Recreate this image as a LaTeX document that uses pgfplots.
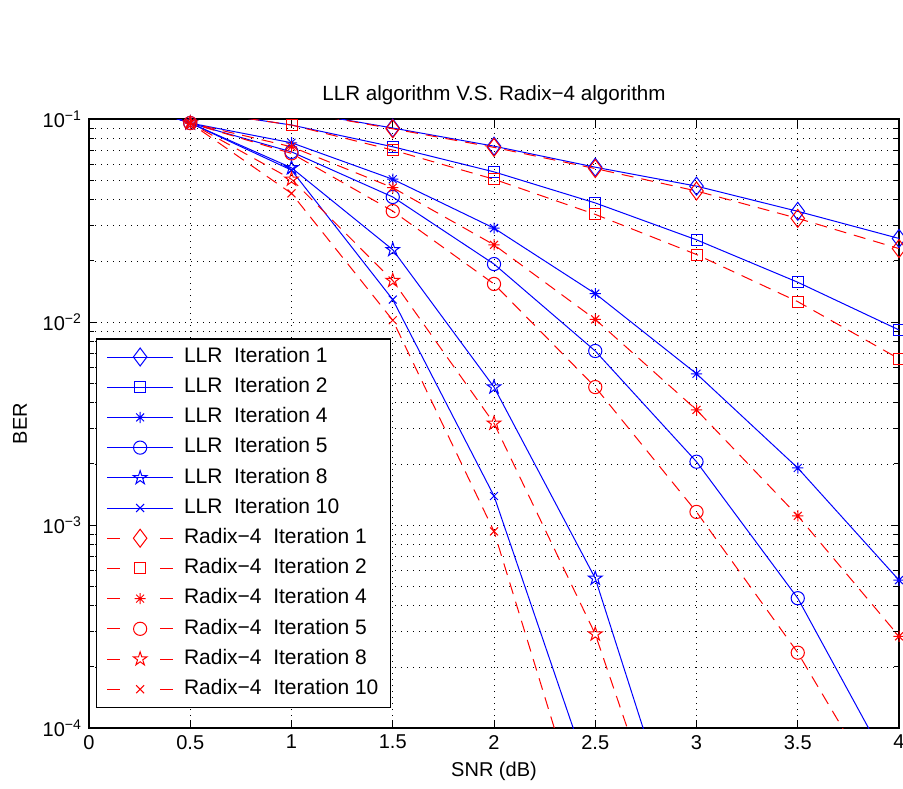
\documentclass[border=0pt]{standalone}
\usepackage{fontspec}
\setmainfont{Liberation Sans}
\usepackage{pgfplots}
\pgfplotsset{compat=1.18}

% MATLAB-like pentagram marker
\pgfdeclareplotmark{pentagram}{%
  \pgfpathmoveto{\pgfpointpolar{90}{\pgfplotmarksize}}%
  \pgfpathlineto{\pgfpointpolar{126}{0.382\pgfplotmarksize}}%
  \pgfpathlineto{\pgfpointpolar{162}{\pgfplotmarksize}}%
  \pgfpathlineto{\pgfpointpolar{198}{0.382\pgfplotmarksize}}%
  \pgfpathlineto{\pgfpointpolar{234}{\pgfplotmarksize}}%
  \pgfpathlineto{\pgfpointpolar{270}{0.382\pgfplotmarksize}}%
  \pgfpathlineto{\pgfpointpolar{306}{\pgfplotmarksize}}%
  \pgfpathlineto{\pgfpointpolar{342}{0.382\pgfplotmarksize}}%
  \pgfpathlineto{\pgfpointpolar{18}{\pgfplotmarksize}}%
  \pgfpathlineto{\pgfpointpolar{54}{0.382\pgfplotmarksize}}%
  \pgfpathclose\pgfusepathqstroke}
% MATLAB-like 8-point asterisk
\pgfdeclareplotmark{ast8}{%
  \pgfpathmoveto{\pgfpointpolar{0}{\pgfplotmarksize}}\pgfpathlineto{\pgfpointpolar{180}{\pgfplotmarksize}}%
  \pgfpathmoveto{\pgfpointpolar{90}{\pgfplotmarksize}}\pgfpathlineto{\pgfpointpolar{270}{\pgfplotmarksize}}%
  \pgfpathmoveto{\pgfpointpolar{45}{\pgfplotmarksize}}\pgfpathlineto{\pgfpointpolar{225}{\pgfplotmarksize}}%
  \pgfpathmoveto{\pgfpointpolar{135}{\pgfplotmarksize}}\pgfpathlineto{\pgfpointpolar{315}{\pgfplotmarksize}}%
  \pgfusepathqstroke}

\definecolor{mblue}{RGB}{0,0,255}
\definecolor{mred}{RGB}{255,0,0}

\pgfplotsset{
  llr/.style={mblue, solid, line width=0.5pt, mark options={solid},
    legend image code/.code={\draw[##1, mark indices={2}] plot coordinates {(0pt,0pt) (16.5pt,0pt) (33pt,0pt)};}},
  rdx/.style={mred, line width=0.5pt, dash pattern=on 6pt off 4pt, mark options={solid},
    legend image code/.code={\draw[##1, mark indices={2}, dash pattern=on 6.5pt off 20pt] plot coordinates {(0pt,0pt) (16.5pt,0pt) (33pt,0pt)};}},
  mdia/.style={mark=diamond, mark size=4.5pt},
  msq/.style={mark=square, mark size=2.75pt},
  mast/.style={mark=ast8, mark size=2.8pt},
  mcir/.style={mark=o, mark size=3.3pt},
  mpen/.style={mark=pentagram, mark size=3.6pt},
  mx/.style={mark=x, mark size=2.8pt},
}

\begin{document}
\begin{tikzpicture}
\begin{axis}[
    name=ax,
    scale only axis,
    width=405pt, height=304.5pt,
    ymode=log,
    xmin=0, xmax=4, ymin=1e-4, ymax=1e-1,
    xtick={0,0.5,...,4},
    ytick={1e-4,1e-3,1e-2,1e-1},
    yticklabels={10\textsuperscript{−4},10\textsuperscript{−3},10\textsuperscript{−2},10\textsuperscript{−1}},
    /pgf/number format/assume math mode=true,
    tick label style={font=\fontsize{10}{12}\selectfont},
    label style={font=\fontsize{10}{12}\selectfont},
    title style={font=\fontsize{10.3}{12}\selectfont, yshift=-2.5pt},
    title={LLR algorithm V.S. Radix−4 algorithm},
    xlabel={SNR (dB)},
    ylabel={BER},
    xlabel style={yshift=0.5pt},
    ylabel style={yshift=1pt},
    grid=both,
    major grid style={black, line width=0.4pt, dash pattern=on 0.5pt off 2.5pt},
    minor grid style={black, line width=0.4pt, dash pattern=on 0.5pt off 2.5pt},
    axis line style={black, line width=0.6pt},
    tick style={black, line width=0.5pt},
    major tick length=4pt, minor tick length=2.5pt,
    clip marker paths=false,
    legend cell align=left,
    legend style={at={(0.0087,0.033)}, anchor=south west, draw=black, line width=0.6pt,
      font=\fontsize{10.5}{12}\selectfont, row sep=3pt, column sep=4pt,
      nodes={inner sep=1.2pt, text height=7.5pt, text depth=2.2pt},
      inner xsep=5pt, inner ysep=3pt},
]
\addplot[llr, mdia] coordinates {(0,0.14) (0.5,0.125) (1,0.11) (1.5,0.0903) (2,0.0735) (2.5,0.0579) (3,0.0467) (3.5,0.0351) (4,0.0258)};
\addplot[llr, msq] coordinates {(0,0.13) (0.5,0.111) (1,0.0934) (1.5,0.0730) (2,0.0549) (2.5,0.0386) (3,0.0254) (3.5,0.0157) (4,0.00914)};
\addplot[llr, mast] coordinates {(0,0.14) (0.5,0.0955) (1,0.0764) (1.5,0.0505) (2,0.0290) (2.5,0.0138) (3,0.00556) (3.5,0.00191) (4,0.000535)};
\addplot[llr, mcir] coordinates {(0,0.14) (0.5,0.0955) (1,0.0689) (1.5,0.0413) (2,0.0193) (2.5,0.00720) (3,0.00205) (3.5,0.000436) (4,0.000053)};
\addplot[llr, mpen] coordinates {(0,0.14) (0.5,0.0955) (1,0.0575) (1.5,0.0227) (2,0.00478) (2.5,0.000546) (3,0.000015)};
\addplot[llr, mx] coordinates {(0,0.14) (0.5,0.0955) (1,0.056) (1.5,0.0129) (2,0.00139) (2.5,0.000048)};
\addplot[rdx, mdia] coordinates {(0,0.14) (0.5,0.125) (1,0.11) (1.5,0.0895) (2,0.0725) (2.5,0.0570) (3,0.0442) (3.5,0.0324) (4,0.0230)};
\addplot[rdx, msq] coordinates {(0,0.13) (0.5,0.111) (1,0.0934) (1.5,0.0703) (2,0.0505) (2.5,0.0339) (3,0.0215) (3.5,0.0126) (4,0.00659)};
\addplot[rdx, mast] coordinates {(0,0.14) (0.5,0.0955) (1,0.0730) (1.5,0.0459) (2,0.0240) (2.5,0.0103) (3,0.00369) (3.5,0.00111) (4,0.000283)};
\addplot[rdx, mcir] coordinates {(0,0.14) (0.5,0.0955) (1,0.0677) (1.5,0.0352) (2,0.0154) (2.5,0.00478) (3,0.00116) (3.5,0.000235) (4,0.000034)};
\addplot[rdx, mpen] coordinates {(0,0.14) (0.5,0.0955) (1,0.0505) (1.5,0.0160) (2,0.00317) (2.5,0.000290) (3,0.000010)};
\addplot[rdx, mx] coordinates {(0,0.14) (0.5,0.0955) (1,0.043) (1.5,0.0102) (2,0.00093) (2.5,0.000022)};
\legend{LLR\ \ Iteration 1, LLR\ \ Iteration 2, LLR\ \ Iteration 4, LLR\ \ Iteration 5, LLR\ \ Iteration 8, LLR\ \ Iteration 10,
  Radix−4\ \ Iteration 1, Radix−4\ \ Iteration 2, Radix−4\ \ Iteration 4, Radix−4\ \ Iteration 5, Radix−4\ \ Iteration 8, Radix−4\ \ Iteration 10}
\end{axis}
% page frame with the reference margins
\path (ax.south west) ++(-44.5pt,-30pt) coordinate (bl);
\path (ax.north east) ++(2pt,59.5pt) coordinate (tr);
\pgfresetboundingbox
\useasboundingbox (bl) rectangle (tr);
\end{tikzpicture}
\end{document}
